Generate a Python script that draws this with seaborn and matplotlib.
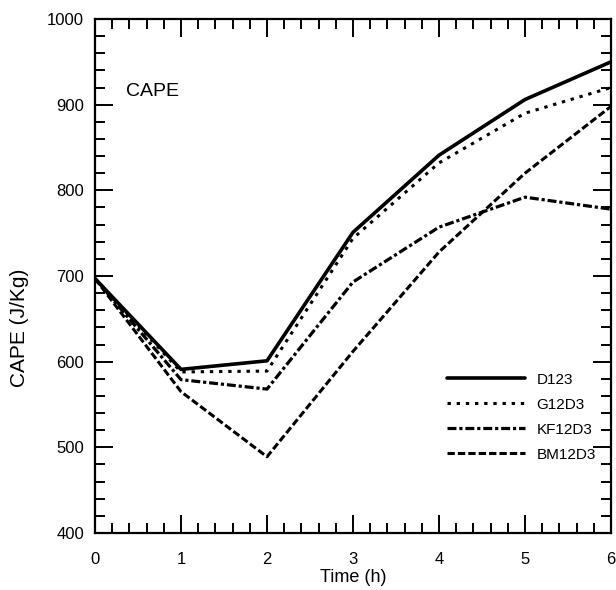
import matplotlib
matplotlib.use("Agg")
import matplotlib.pyplot as plt
from matplotlib.ticker import MultipleLocator
import seaborn as sns
import pandas as pd

time_h = [0, 1, 2, 3, 4, 5, 6]
d123 = [697, 591, 601, 751, 841, 906, 950]
g12d3 = [697, 588, 589, 744, 832, 890, 920]
kf12d3 = [697, 579, 568, 693, 757, 792, 778]
bm12d3 = [697, 565, 489, 612, 728, 820, 898]
series_names = ["D123", "G12D3", "KF12D3", "BM12D3"]

sns.set_theme(style="ticks")
plt.rcParams["font.family"] = ["Liberation Sans", "DejaVu Sans"]
for k in ["text.color", "axes.labelcolor", "xtick.color", "ytick.color", "axes.edgecolor"]:
    plt.rcParams[k] = "black"

fig = plt.figure(figsize=(6.16, 5.90), dpi=100)
ax = fig.add_axes([95/616, 1-533/590, (611-95)/616, (533-19)/590])

styles = {
    "D123": dict(linestyle="-", linewidth=2.6),
    "G12D3": dict(linestyle=(0, (1.1, 1.9)), linewidth=2.2),
    "KF12D3": dict(linestyle=(0, (2.8, 0.9, 1, 0.9)), linewidth=2.3),
    "BM12D3": dict(linestyle=(0, (2.4, 1.0)), linewidth=2.2),
}
for name, vals in zip(series_names, [d123, g12d3, kf12d3, bm12d3]):
    df = pd.DataFrame({"time": time_h, "cape": vals})
    sns.lineplot(data=df, x="time", y="cape", ax=ax, color="black",
                 label=name, **styles[name])

ax.set_xlim(0, 6)
ax.set_ylim(400, 1000)
ax.xaxis.set_major_locator(MultipleLocator(1))
ax.xaxis.set_minor_locator(MultipleLocator(0.2))
ax.yaxis.set_major_locator(MultipleLocator(100))
ax.yaxis.set_minor_locator(MultipleLocator(20))
ax.tick_params(which="both", direction="in", top=True, right=True,
               color="black", width=1.4)
ax.tick_params(which="major", length=13, labelsize=12)
ax.tick_params(axis="x", which="major", pad=14)
ax.tick_params(axis="y", which="major", pad=8)
ax.tick_params(which="minor", length=7)
for s in ax.spines.values():
    s.set_linewidth(1.6)
    s.set_color("black")

ax.set_xlabel("Time (h)", fontsize=13, labelpad=1)
ax.set_ylabel("CAPE (J/Kg)", fontsize=15, labelpad=10)
ax.yaxis.set_label_coords(-0.128, 0.40)
ax.text(0.36, 915, "CAPE", fontsize=14, va="center", ha="left")

leg = ax.legend(loc="upper left", bbox_to_anchor=(0.682, 0.312), frameon=False,
                fontsize=11, handlelength=5.1, handletextpad=0.75,
                labelspacing=0.72, borderpad=0, borderaxespad=0)

fig.savefig("out.png", dpi=100)
